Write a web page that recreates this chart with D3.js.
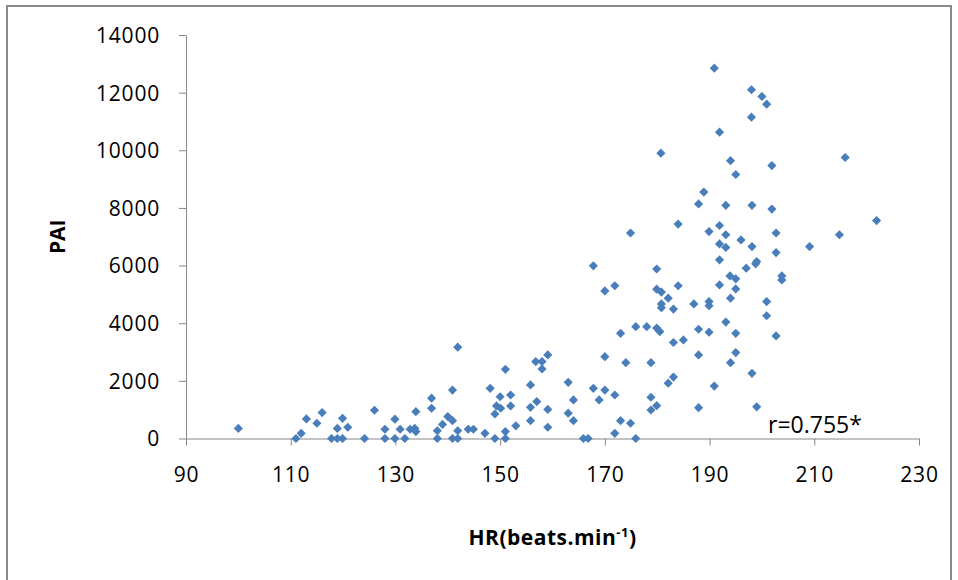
<!DOCTYPE html>
<html>
<head>
<meta charset="utf-8">
<script src="https://cdn.jsdelivr.net/npm/d3@7"></script>
<style>
  html, body { margin: 0; padding: 0; background: #fff; }
  svg { display: block; font-family: "Open Sans", sans-serif; }
</style>
</head>
<body>
<svg id="chart"></svg>
<script>
// heart rate (x) and PAI (y)
const hr = [
  100, 111, 112, 113, 115, 116, 117.8, 118.9, 118.9, 119.9, 119.9, 120.9, 124.1, 126, 128, 128,
  129.9, 129.9, 130.9, 131.8, 132.8, 133.7, 133.9, 133.9, 136.9, 136.9, 138, 138, 139, 140,
  140.9, 140.9, 140.9, 141.9, 141.9, 141.9, 143.9, 144.9, 147.1, 148.1, 149, 149, 149.3, 150,
  150.1, 151, 151, 151, 152, 152, 153, 155.8, 155.8, 155.8, 156.8, 157, 158, 158, 159.1, 159.1,
  159.1, 163, 163, 164, 164, 165.9, 166.8, 167.8, 168.9, 170, 170,
  167.8, 170,
  194, 201.9, 195, 188.9, 187.9, 193.1, 198.1, 201.9, 174.9, 184, 189.9, 191.9, 193.1, 202.7,
  196, 191.9, 193.1, 198.1, 202.7, 191.9, 199, 198.8, 197, 179.9, 193.9, 195, 203.8, 203.8,
  171.9, 184, 191.9, 195, 179.9, 180.8, 182.1, 180.8, 180.8, 183.1, 187, 189.9, 189.9, 194,
  200.9, 200.9, 202.7, 173, 175.9, 178, 179.9, 180.5, 183.1, 185, 187.9, 189.9, 193.1, 195,
  174, 178.8, 187.9, 195, 194, 198.1, 183.1, 182.1, 171.9, 190.9, 178.8, 179.9, 178.8, 187.9,
  199, 173, 174.9, 171.9, 175.9,
  190.9, 198, 200, 200.9, 198, 191.9, 215.9, 221.9, 214.8, 209.1, 180.7
];
const pai = [
  350, 0, 180, 680, 530, 900, 0, 350, 0, 700, 0, 390, 0, 980, 320, 0,
  670, 0, 320, 0, 320, 350, 240, 930, 1400, 1050, 270, 0, 490, 760,
  620, 1680, 0, 3170, 270, 0, 320, 320, 180, 1740, 0, 850, 1130, 1450,
  1050, 240, 0, 2400, 1510, 1130, 440, 1860, 1080, 620, 2670, 1280, 2670, 2410, 2900, 1010,
  390, 1950, 880, 1340, 620, 0, 0, 1740, 1340, 2840, 1680,
  5990, 5120,
  9640, 9470, 9160, 8550, 8140, 8090, 8090, 7960, 7130, 7440, 7180, 7390, 7070, 7130,
  6890, 6750, 6630, 6660, 6450, 6200, 6140, 6060, 5910, 5880, 5640, 5540, 5640, 5500,
  5300, 5300, 5330, 5190, 5180, 5080, 4870, 4670, 4540, 4490, 4670, 4750, 4610, 4870,
  4750, 4260, 3560, 3650, 3880, 3880, 3830, 3710, 3330, 3420, 3790, 3690, 4040, 3650,
  2630, 2630, 2900, 2980, 2630, 2260, 2130, 1920, 1510, 1820, 1430, 1140, 990, 1070,
  1100, 620, 530, 180, 0,
  12850, 12100, 11870, 11600, 11150, 10630, 9750, 7560, 7070, 6660, 9900
];
const xTicks = [90, 110, 130, 150, 170, 190, 210, 230];
const yTicks = [0, 2000, 4000, 6000, 8000, 10000, 12000, 14000];
const rLabel = "r=0.755*";

const width = 958, height = 580;
const margin = { left: 186, right: 39, top: 35, bottom: 141.5 };

const svg = d3.select("#chart").attr("width", width).attr("height", height);

// outer frame
svg.append("rect")
   .attr("x", 7).attr("y", 6)
   .attr("width", 944).attr("height", 600)
   .attr("fill", "none")
   .attr("stroke", "#8c8c8c")
   .attr("stroke-width", 2);

const x = d3.scaleLinear().domain([90, 230]).range([margin.left, width - margin.right]);
const y = d3.scaleLinear().domain([0, 14000]).range([height - margin.bottom, margin.top]);

const axisColor = "#868686";

const gx = svg.append("g")
   .attr("transform", `translate(0,${y(0)})`)
   .call(d3.axisBottom(x).tickValues(xTicks).tickSize(7).tickSizeOuter(0).tickPadding(22));

const gy = svg.append("g")
   .attr("transform", `translate(${x(90)},0)`)
   .call(d3.axisLeft(y).tickValues(yTicks).tickFormat(d3.format("d"))
          .tickSize(7).tickSizeOuter(0).tickPadding(19));

[gx, gy].forEach(g => {
    g.select(".domain").attr("stroke", axisColor);
    g.selectAll(".tick line").attr("stroke", axisColor);
    g.selectAll(".tick text")
     .attr("fill", "#000")
     .style("font-family", "'Open Sans', sans-serif")
     .style("font-size", "21px")
     .style("letter-spacing", "0.8px");
});
gy.selectAll(".tick text").attr("dy", "0.35em");

// points
const pts = hr.map((h, i) => ({ hr: h, pai: pai[i] }));
const diamond = d3.symbol().type(d3.symbolSquare).size(42);

svg.append("g")
   .selectAll("path")
   .data(pts)
   .join("path")
   .attr("d", diamond)
   .attr("transform", d => `translate(${x(d.hr)},${y(d.pai)}) rotate(45)`)
   .attr("fill", "#4a7ebb");

// axis titles
svg.append("text")
   .attr("transform", `translate(65,${(y(0) + y(14000)) / 2}) rotate(-90)`)
   .attr("text-anchor", "middle")
   .style("font-size", "21px")
   .style("font-weight", "bold")
   .text("PAI");

const xt = svg.append("text")
   .attr("x", (x(90) + x(230)) / 2)
   .attr("y", 545)
   .attr("text-anchor", "middle")
   .style("font-size", "21px")
   .style("font-weight", "bold")
   .style("letter-spacing", "0.5px");
xt.append("tspan").text("HR(beats.min");
xt.append("tspan").attr("dy", -8).style("font-size", "13px").text("-1");
xt.append("tspan").attr("dy", 8).text(")");

svg.append("text")
   .attr("x", 768)
   .attr("y", 433)
   .style("font-size", "23px")
   .text(rLabel);
</script>
</body>
</html>
